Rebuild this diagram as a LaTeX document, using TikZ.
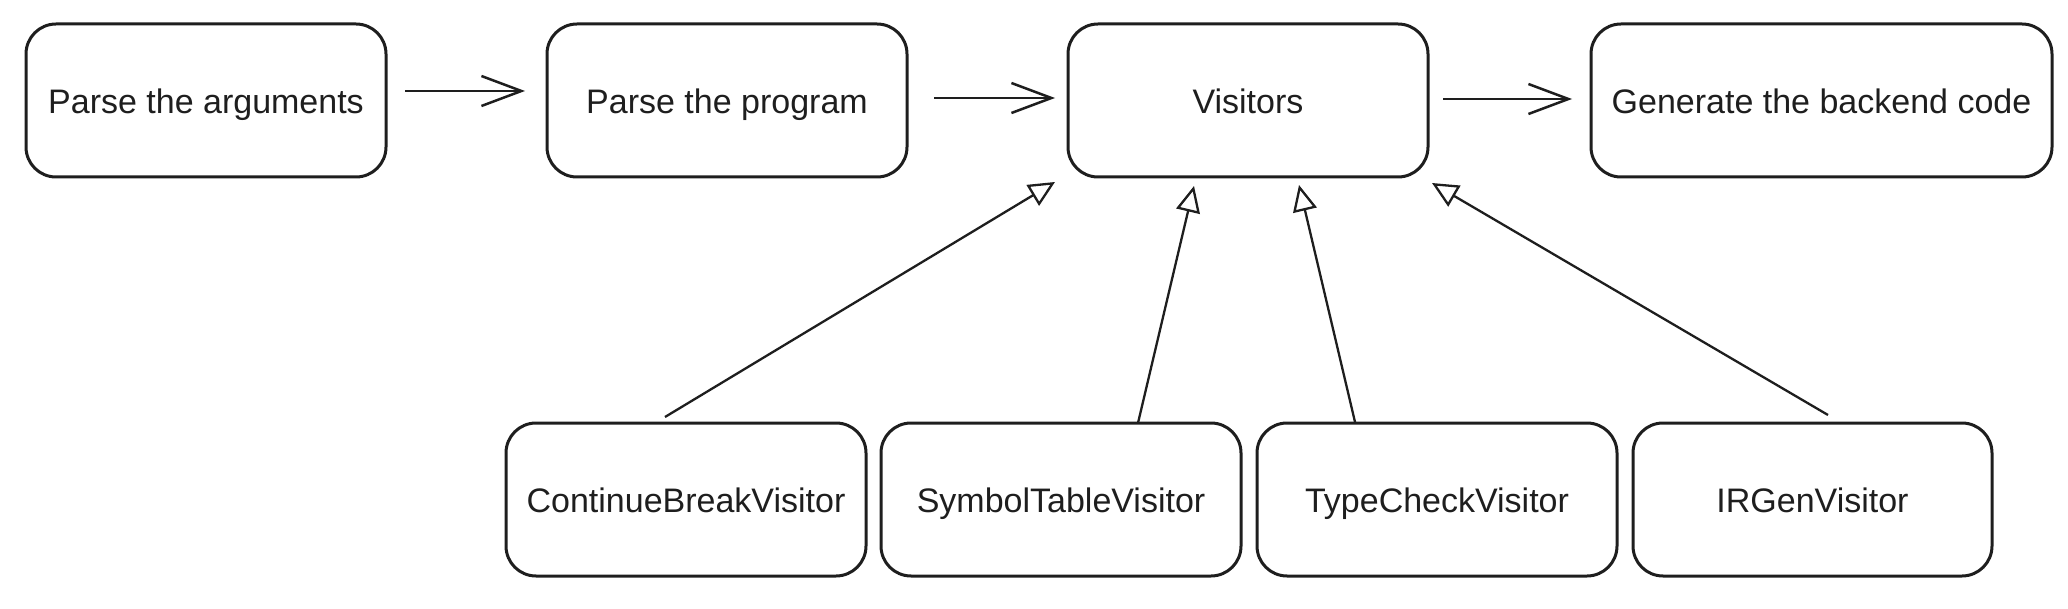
\documentclass[tikz,border=0pt]{standalone}
\usepackage{fontspec}
\setmainfont{Liberation Sans}
\usetikzlibrary{arrows.meta,calc}
\definecolor{ink}{HTML}{1E1E1E}
\tikzset{
  box/.style={draw=ink, line width=1.5pt, rounded corners=15pt, minimum height=76.5pt,
    inner sep=0pt, outer sep=0pt, text=ink, font=\fontsize{17}{20}\selectfont,
    text height=15pt, text depth=2pt},
  flow/.style={draw=ink, line width=1.25pt, -{Straight Barb[length=20pt,width=15pt,line width=1.25pt]}},
  inherit/.style={draw=ink, line width=1.15pt, -{Triangle[open,length=13pt,width=12pt,line width=1.15pt,fill=white]}}
}
\begin{document}
\begin{tikzpicture}[x=0.5pt,y=-0.5pt]
\useasboundingbox (0,0) rectangle (2068,609);
% top row
\node[box, minimum width=180pt] (b1) at (206,100.5) {Parse the arguments};
\node[box, minimum width=180pt] (b2) at (727,100.5) {Parse the program};
\node[box, minimum width=180pt] (b3) at (1248,100.5) {Visitors};
\node[box, minimum width=230.5pt] (b4) at (1821.5,100.5) {Generate the backend code};
% bottom row
\node[box, minimum width=180pt] (c1) at (686,499.5) {ContinueBreakVisitor};
\node[box, minimum width=180pt] (c2) at (1061,499.5) {SymbolTableVisitor};
\node[box, minimum width=180pt] (c3) at (1437,499.5) {TypeCheckVisitor};
\node[box, minimum width=179.5pt] (c4) at (1812.5,499.5) {IRGenVisitor};
% flow arrows
\draw[flow] ($(b1.east)+(19,-9.5)$) -- ($(b2.west)+(-22,-9.5)$);
\draw[flow] ($(b2.east)+(27,-2.5)$) -- ($(b3.west)+(-13,-2.5)$);
\draw[flow] ($(b3.east)+(15,-1.5)$) -- ($(b4.west)+(-19,-1.5)$);
% inheritance arrows
\draw[inherit] ($(c1.north)+(-21,-6)$) -- ($(b3.south west)+(-13,5)$);
\draw[inherit] ($(c2.north)+(77,0)$) -- ($(b3.south)+(-54,9)$);
\draw[inherit] ($(c3.north)+(-82,-1)$) -- ($(b3.south)+(51,8)$);
\draw[inherit] ($(c4.north)+(15.5,-8)$) -- ($(b3.south east)+(4,6)$);
\end{tikzpicture}
\end{document}
